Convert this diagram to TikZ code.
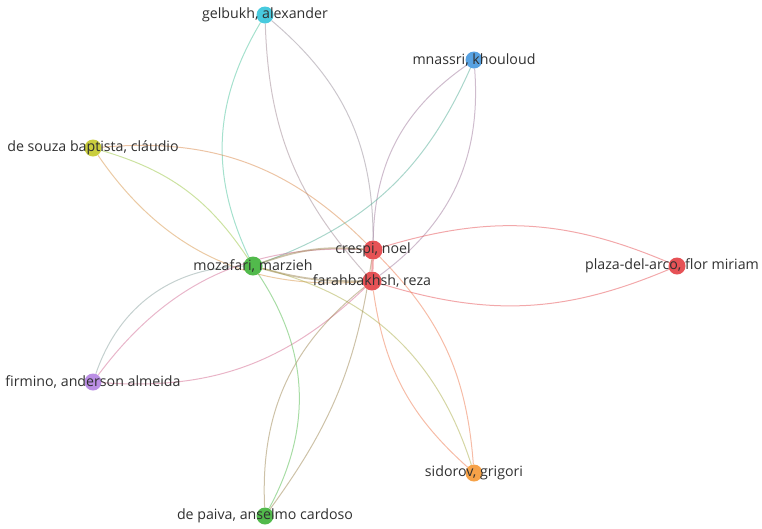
\documentclass[tikz,border=0pt]{standalone}
\usepackage{fontspec}
\setmainfont{Open Sans}
\usetikzlibrary{backgrounds}
\definecolor{redc}{RGB}{230,82,86}
\definecolor{greenc}{RGB}{82,186,76}
\definecolor{cyanc}{RGB}{72,202,222}
\definecolor{bluec}{RGB}{88,162,226}
\definecolor{yellowc}{RGB}{202,206,62}
\definecolor{purplec}{RGB}{186,142,228}
\definecolor{orangec}{RGB}{246,162,72}
\definecolor{txt}{RGB}{48,48,48}
\tikzset{
    author/.style={circle, inner sep=0pt, minimum size=17pt, fill=#1},
    hub/.style={circle, inner sep=0pt, minimum size=19pt, fill=#1},
    link/.style={line width=1pt, draw=#1, draw opacity=0.5},
    every label/.style={font=\fontsize{14.2}{16}\selectfont, text=txt}
}

\begin{document}
\begin{tikzpicture}
  [
    x = 1pt,
    y = 1pt,
  ]
  \useasboundingbox (0,0) rectangle (762,-528);
  % authors
  \node (gelbukh)  [author=cyanc,   label={center:{gelbukh, alexander}}]         at (265,-15)  {};
  \node (mnassri)  [author=bluec,   label={center:{mnassri, khouloud}}]          at (474,-60)  {};
  \node (desouza)  [author=yellowc, label={center:{de souza baptista, cláudio}}] at (93,-148)  {};
  \node (crespi)   [hub=redc,       label={center:{crespi, noel}}]               at (373,-250) {};
  \node (mozafari) [hub=greenc,     label={center:{mozafari, marzieh}}]          at (253,-266) {};
  \node (farah)    [hub=redc,       label={center:{farahbakhsh, reza}}]          at (372,-281) {};
  \node (plaza)    [author=redc,    label={[xshift=-5pt]center:{plaza-del-arco, flor miriam}}] at (677,-266) {};
  \node (firmino)  [author=purplec, label={center:{firmino, anderson almeida}}]  at (93,-382)  {};
  \node (sidorov)  [author=orangec, label={center:{sidorov, grigori}}]           at (474,-473) {};
  \node (depaiva)  [author=greenc,  label={center:{de paiva, anselmo cardoso}}]  at (265,-516) {};
  % links
  \begin{pgfonlayer}{background}
    \draw [link=cyanc!55!greenc]   (gelbukh)  to [bend right=28] (mozafari);
    \draw [link=cyanc!50!redc]     (gelbukh)  to [bend left=25]  (crespi);
    \draw [link=cyanc!45!redc]     (gelbukh)  to [bend right=20] (farah);
    \draw [link=bluec!50!redc]     (mnassri)  to [bend right=27] (crespi);
    \draw [link=bluec!50!greenc]   (mnassri)  to [bend left=23]  (mozafari);
    \draw [link=bluec!50!redc]     (mnassri)  to [bend left=29]  (farah);
    \draw [link=yellowc!45!redc]   (desouza)  to [bend left=25]  (crespi);
    \draw [link=yellowc!60!greenc] (desouza)  to [bend left=20]  (mozafari);
    \draw [link=yellowc!55!redc]   (desouza)  to [bend right=30] (farah);
    \draw [link=redc]              (crespi)   to [bend left=20]  (plaza);
    \draw [link=redc]              (farah)    to [bend right=20] (plaza);
    \draw [link=purplec!55!greenc] (firmino)  to [bend left=35]  (mozafari);
    \draw [link=purplec!45!redc]   (firmino)  to [bend left=28]  (crespi);
    \draw [link=purplec!40!redc]   (firmino)  to [bend right=24] (farah);
    \draw [link=orangec!50!redc]   (sidorov)  to [bend left=20]  (farah);
    \draw [link=orangec!50!redc]   (sidorov)  to [bend right=20] (crespi);
    \draw [link=greenc!45!orangec] (mozafari) to [bend left=29]  (sidorov);
    \draw [link=greenc]            (depaiva)  to [bend right=31] (mozafari);
    \draw [link=greenc!50!redc]    (depaiva)  to [bend left=27]  (farah);
    \draw [link=greenc!50!redc]    (depaiva)  to [bend right=14] (crespi);
    \draw [link=greenc!50!redc, line width=1.8pt] (mozafari) to [bend left=12] (crespi);
    \draw [link=greenc!50!redc, line width=1.8pt] (mozafari) to [bend right=8] (farah);
    \draw [link=redc, line width=2.2pt] (crespi) -- (farah);
  \end{pgfonlayer}
\end{tikzpicture}
\end{document}
